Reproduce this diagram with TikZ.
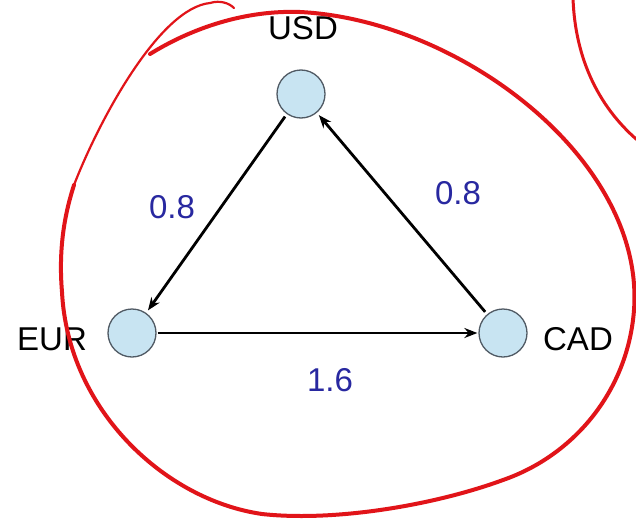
\documentclass[tikz,border=0pt]{standalone}
\usepackage{fontspec}
\setmainfont{Liberation Sans}
\usetikzlibrary{arrows.meta}
\definecolor{nodefill}{RGB}{200,228,242}
\definecolor{nodeline}{RGB}{80,90,100}
\definecolor{lblblue}{RGB}{40,40,160}
\definecolor{penred}{RGB}{225,20,25}
\tikzset{
  cur/.style={circle,draw=nodeline,fill=nodefill,line width=1.3pt,minimum size=48pt,inner sep=0pt},
  curname/.style={font=\fontsize{33}{38}\selectfont,text=black,inner sep=0pt},
  rate/.style={font=\fontsize{33}{38}\selectfont,text=lblblue,inner sep=0pt},
  link/.style={line width=2.8pt,-{Stealth[length=13pt,width=10pt]},shorten <=3pt,shorten >=3pt},
  pen/.style={penred,line width=4pt,line cap=round,line join=round},
  thinpen/.style={penred,line width=2.2pt,line cap=round,line join=round}
}
\begin{document}
\begin{tikzpicture}[x=1pt,y=-1pt]
\useasboundingbox (0,0) rectangle (636,519);
\fill[white] (0,0) rectangle (636,519);
\node[cur] (usd) at (301,94) {};
\node[cur] (eur) at (132,333) {};
\node[cur] (cad) at (503,333) {};
\node[curname] (usdl) at (303,28) {USD};
\node[curname] (eurl) at (52,339) {EUR};
\node[curname] (cadl) at (578,339) {CAD};
\draw[link] (usd) -- (eur);
\draw[link] (cad) -- (usd);
\draw[link,shorten <=1pt,shorten >=1pt] (eur) -- (cad);
\node[rate] (r1) at (172,207) {0.8};
\node[rate] (r2) at (458,193) {0.8};
\node[rate] (r3) at (330,380) {1.6};
% hand-drawn red loop
\coordinate (p0) at (150,54);
\coordinate (p1) at (300,12);
\coordinate (p3) at (634,310);
\coordinate (p4) at (503,480);
\coordinate (p5) at (262,514);
\coordinate (p6) at (62,292);
\coordinate (p7) at (74,185);
\coordinate (p8) at (210,3);
\coordinate (p9) at (234,8);
\draw[pen] (p0) .. controls (192,28) and (245,10) .. (p1)
  .. controls (460,20) and (645,160) .. (p3)
  .. controls (628,390) and (575,455) .. (p4)
  .. controls (435,505) and (335,522) .. (p5)
  .. controls (165,500) and (68,410) .. (p6)
  .. controls (58,245) and (66,210) .. (p7);
\draw[thinpen] (p7) .. controls (100,118) and (160,8) .. (p8)
  .. controls (220,0) and (229,3) .. (p9);
\coordinate (q0) at (573,-2);
\coordinate (q1) at (642,144);
\draw[pen,line width=3pt] (q0) .. controls (575,60) and (600,110) .. (q1);
\end{tikzpicture}
\end{document}
